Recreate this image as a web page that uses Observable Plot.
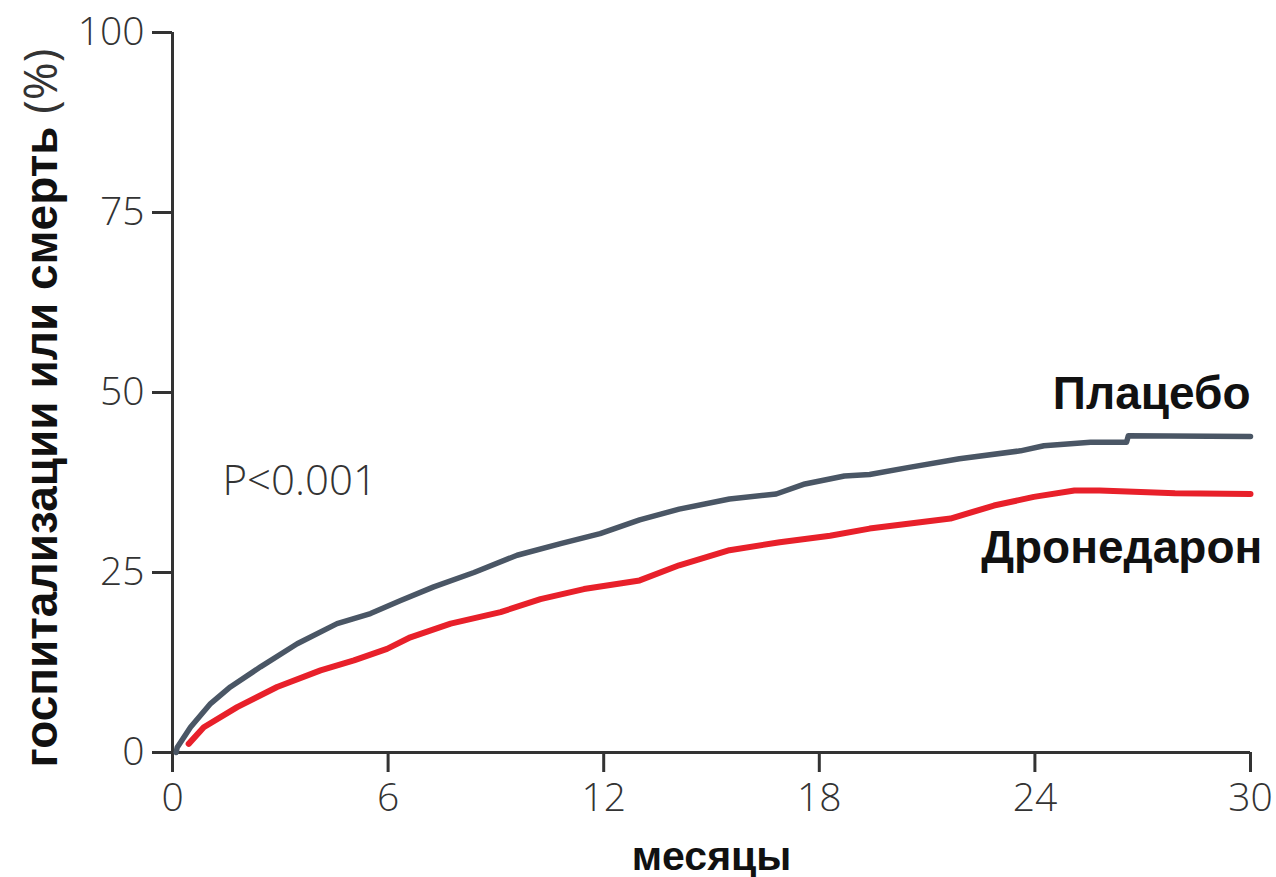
<!DOCTYPE html>
<html>
<head>
<meta charset="utf-8">
<script src="https://cdn.jsdelivr.net/npm/d3@7"></script>
<script src="https://cdn.jsdelivr.net/npm/@observablehq/plot@0.6"></script>
<style>
  html, body { margin: 0; padding: 0; background: #fff; }
  #chart svg { display: block; }
</style>
</head>
<body>
<div id="chart"></div>
<script>
// ---- data ----
const xTicks = [0, 6, 12, 18, 24, 30];
const yTicks = [0, 25, 50, 75, 100];

const placeboMonths = [0.1, 0.13, 0.5, 1.06, 1.61, 2.45, 3.47, 4.58, 5.51, 6.35, 7.27, 8.39, 9.59, 10.8, 11.9, 13.0, 14.1, 15.5, 16.8, 17.6, 18.7, 19.4, 20.5, 21.9, 23.6, 24.25, 25.55, 26.55, 26.6, 30];
const placeboValues = [0, 0.7, 3.5, 6.8, 9.1, 11.9, 15.1, 17.9, 19.3, 21.1, 23.0, 25.0, 27.4, 29.0, 30.4, 32.3, 33.8, 35.2, 35.9, 37.3, 38.4, 38.6, 39.6, 40.8, 41.9, 42.6, 43.1, 43.1, 44.0, 43.9];

const droneMonths = [0.45, 0.87, 1.8, 2.91, 4.12, 5.05, 5.97, 6.62, 7.74, 9.13, 10.24, 11.45, 13.0, 14.1, 15.5, 16.9, 18.3, 19.4, 21.65, 22.86, 23.97, 25.1, 25.8, 27.9, 30];
const droneValues = [1.2, 3.5, 6.3, 9.1, 11.4, 12.8, 14.4, 16.0, 17.9, 19.5, 21.3, 22.7, 23.9, 26.0, 28.1, 29.2, 30.1, 31.1, 32.5, 34.3, 35.5, 36.4, 36.4, 36.0, 35.9];

const seriesNames = ["Плацебо", "Дронедарон"];
const seriesColors = ["#4a5665", "#e8202a"];
const seriesLabelX = [30, 30.33];
const seriesLabelY = [49.7, 28.3];

const pLabel = "P<0.001";
const pLabelX = 1.39;
const pLabelY = 37.6;

const xLabel = "месяцы";
const yLabelBold = "госпитализации или смерть ";
const yLabelNormal = "(%)";

// ---- build tables ----
const placebo = placeboMonths.map((m, i) => ({month: m, value: placeboValues[i]}));
const drone = droneMonths.map((m, i) => ({month: m, value: droneValues[i]}));
const seriesLabels = seriesNames.map((n, i) => ({name: n, x: seriesLabelX[i], y: seriesLabelY[i]}));

const tickFont = "'Open Sans', 'Noto Sans', sans-serif";
const boldFont = "'Liberation Sans', Arial, sans-serif";

const chart = Plot.plot({
  width: 1276,
  height: 877,
  marginLeft: 172,
  marginRight: 26,
  marginTop: 32,
  marginBottom: 125,
  style: {background: "#fff", fontFamily: tickFont},
  x: {domain: [0, 30]},
  y: {domain: [0, 100]},
  marks: [
    Plot.axisX({ticks: xTicks, tickSize: 20, tickPadding: 11, fontSize: 39, fontWeight: 300,
      stroke: "#333", strokeWidth: 3, color: "#333", label: null, tickFormat: d => String(d)}),
    Plot.axisY({ticks: yTicks, tickSize: 20, tickPadding: 8, fontSize: 39, fontWeight: 300,
      stroke: "#333", strokeWidth: 3, color: "#333", label: null, tickFormat: d => String(d)}),
    Plot.ruleY([0], {stroke: "#333", strokeWidth: 3}),
    Plot.ruleX([0], {stroke: "#333", strokeWidth: 3}),
    Plot.line(placebo, {x: "month", y: "value", stroke: seriesColors[0], strokeWidth: 5.5, strokeLinejoin: "round"}),
    Plot.line(drone, {x: "month", y: "value", stroke: seriesColors[1], strokeWidth: 6, strokeLinecap: "round", strokeLinejoin: "round"}),
    Plot.text(seriesLabels, {x: "x", y: "y", text: "name", textAnchor: "end", lineAnchor: "middle",
      fontSize: 46, fontWeight: "bold", fontFamily: boldFont, fill: "#111"}),
    Plot.text([pLabel], {x: pLabelX, y: pLabelY, text: d => d, textAnchor: "start", lineAnchor: "middle",
      fontSize: 42, fontWeight: 300, fill: "#333"}),
    Plot.text([xLabel], {frameAnchor: "bottom", dy: 117, text: d => d, lineAnchor: "bottom",
      fontSize: 41, fontWeight: "bold", fontFamily: boldFont, fill: "#111"})
  ]
});

document.getElementById("chart").appendChild(chart);

// rotated y-axis title with mixed weights
const svg = d3.select(chart);
const yt = svg.append("text")
  .attr("transform", "translate(57,408) rotate(-90)")
  .attr("text-anchor", "middle")
  .attr("font-family", boldFont)
  .attr("font-size", 46)
  .attr("fill", "#111");
yt.append("tspan").attr("font-weight", "bold").text(yLabelBold);
yt.append("tspan").attr("font-weight", "normal").attr("font-family", tickFont).attr("fill", "#333").text(yLabelNormal);
</script>
</body>
</html>
